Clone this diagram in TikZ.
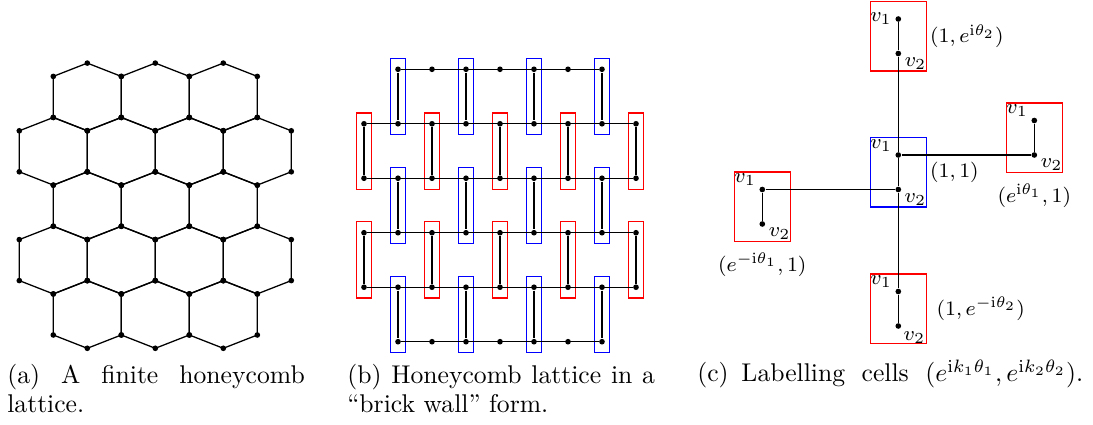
\documentclass[tikz,border=0pt]{standalone}
\usetikzlibrary{fit}

\begin{document}
\begin{tikzpicture}[x=0.39pt,y=-0.39pt,line width=0.5pt,
  dot/.style={circle,fill=black,inner sep=0pt,minimum size=2.2pt},
  brick/.style={draw=#1,inner xsep=1.6pt,inner ysep=2.9pt},
  cell/.style={draw=#1,inner xsep=9.6pt,inner ysep=5.5pt},
  lbl/.style={font=\fontsize{8.4}{10}\selectfont,inner sep=1pt},
  legende/.style={font=\fontsize{10}{11}\selectfont,inner sep=0pt,anchor=base west}]
  \useasboundingbox (0,0) rectangle (1093,425);
  % (a) honeycomb
  \foreach \r/\xo/\n in {0/87.3/2,1/53.3/3,2/87.3/2,3/53.3/3,4/87.3/2}
    \foreach \c in {0,...,\n}
      \draw[shift={({\xo+68*\c},{96.9+54.4*\r})}]
        (34,-20.5) -- (0,-33.8) -- (-34,-20.5) -- (-34,20.5) -- (0,33.8) -- (34,20.5) -- cycle
        \foreach \u/\v in {34/-20.5,0/-33.8,-34/-20.5,-34/20.5,0/33.8,34/20.5} {(\u,\v) node[dot] {}};
  % (b) brick wall
  \foreach \x in {0,...,8}
    \foreach \y in {1,...,4}
      \node[dot] (b-\x-\y) at ({364+34*\x},{69.3+54.48*\y}) {};
  \foreach \x in {1,...,7}
    \foreach \y in {0,5}
      \node[dot] (b-\x-\y) at ({364+34*\x},{69.3+54.48*\y}) {};
  \foreach \x in {1,3,5,7}
    \foreach \y/\yy in {0/1,2/3,4/5} {
      \node[brick=blue,fit=(b-\x-\y)(b-\x-\yy)] (bb-\x-\y) {};
      \draw (b-\x-\y) -- (b-\x-\yy);
    }
  \foreach \x in {0,2,4,6,8}
    \foreach \y/\yy in {1/2,3/4} {
      \node[brick=red,fit=(b-\x-\y)(b-\x-\yy)] (br-\x-\y) {};
      \draw (b-\x-\y) -- (b-\x-\yy);
    }
  \draw (b-1-0) -- (b-7-0);
  \draw (b-1-5) -- (b-7-5);
  \foreach \y in {1,...,4}
    \draw (b-0-\y) -- (b-8-\y);
  % (c) cells
  \node[dot,label={[lbl]180:$v_1$}] (t1) at (898.3,19) {};
  \node[dot,label={[lbl]-20:$v_2$}] (t2) at (898.3,53.5) {};
  \node[dot,label={[lbl]170:$v_1$}] (c1) at (898.3,155) {};
  \node[dot,label={[lbl]-25:$v_2$}] (c2) at (898.3,189.5) {};
  \node[dot,label={[lbl]170:$v_1$}] (d1) at (898.3,291.5) {};
  \node[dot,label={[lbl]-50:$v_2$}] (d2) at (898.3,326) {};
  \node[dot,label={[lbl]170:$v_1$}] (r1) at (1034.3,120.5) {};
  \node[dot,label={[lbl]-10:$v_2$}] (r2) at (1034.3,155) {};
  \node[dot,label={[lbl]170:$v_1$}] (l1) at (762.3,189.5) {};
  \node[dot,label={[lbl]-10:$v_2$}] (l2) at (762.3,224) {};
  \node[cell=red,fit=(t1)(t2),label={[lbl]right:$(1,e^{\mathrm{i}\theta_2})$}] (top) {};
  \node[cell=blue,fit=(c1)(c2),label={[lbl]right:$(1,1)$}] (mid) {};
  \node[cell=red,fit=(r1)(r2),label={[lbl,yshift=-3pt]below:$(e^{\mathrm{i}\theta_1},1)$}] (rgt) {};
  \node[cell=red,fit=(l1)(l2),label={[lbl,yshift=-3pt]below:$(e^{-\mathrm{i}\theta_1},1)$}] (lft) {};
  \node[cell=red,fit=(d1)(d2),label={[lbl,xshift=2.5pt]right:$(1,e^{-\mathrm{i}\theta_2})$}] (bot) {};
  \draw (t1) -- (t2) -- (c1) -- (c2) -- (d1) -- (d2);
  \draw (c1) -- (r2) (r1) -- (r2);
  \draw (c2) -- (l1) -- (l2);
  % captions
  \node[legende,text width=116pt,align=justify] (capa) at (6.7,384) {(a) A finite honeycomb\linebreak lattice.};
  \node[legende,text width=120pt,align=justify] (capb) at (346.7,384) {(b) Honeycomb lattice in a\linebreak “brick wall” form.};
  \node[legende] (capc) at (696.7,382) {\makebox[150.5pt][s]{(c)\enspace Labelling cells $(e^{\mathrm{i}k_1\theta_1},e^{\mathrm{i}k_2\theta_2})$.}};
\end{tikzpicture}
\end{document}
